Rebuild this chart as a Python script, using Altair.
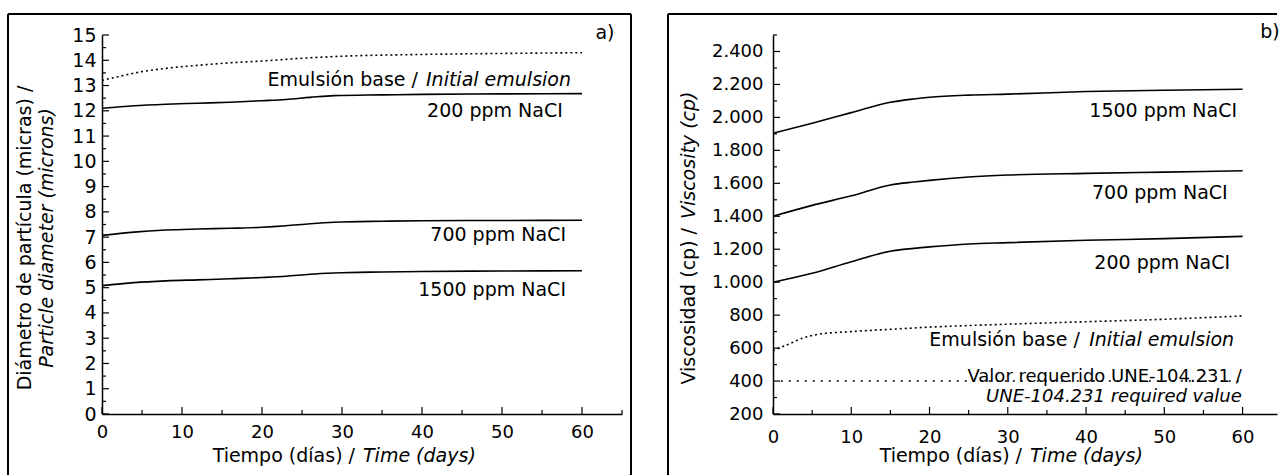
import altair as alt
import pandas as pd

FONT = "DejaVu Sans"

# ---------------- panel a) particle diameter (microns) ----------------
a_days = [0, 4, 8, 12, 16, 20, 23, 26, 29, 35, 40, 50, 60]
a_200 = [12.1, 12.2, 12.26, 12.3, 12.34, 12.4, 12.45, 12.53, 12.6, 12.63, 12.65, 12.67, 12.68]
a_700 = [7.07, 7.2, 7.28, 7.32, 7.35, 7.39, 7.45, 7.53, 7.59, 7.63, 7.65, 7.66, 7.67]
a_1500 = [5.08, 5.2, 5.27, 5.31, 5.35, 5.4, 5.45, 5.53, 5.58, 5.62, 5.64, 5.66, 5.67]
a_base_days = [0, 2, 5, 8, 12, 16, 20, 25, 30, 40, 50, 60]
a_base = [13.2, 13.35, 13.55, 13.68, 13.8, 13.9, 13.97, 14.08, 14.16, 14.23, 14.27, 14.3]

a_y_major = list(range(0, 16))
a_y_minor = [i + 0.5 for i in range(15)]
x_major = [0, 10, 20, 30, 40, 50, 60]
a_x_minor = [5, 15, 25, 35, 45, 55, 65]
b_x_minor = [5, 15, 25, 35, 45, 55]

a_lab_text = ["200 ppm NaCI", "700 ppm NaCI", "1500 ppm NaCI"]
a_lab_x = [57.6, 58.0, 58.0]
a_lab_y = [12.0, 7.08, 4.9]
a_emul_x = [39.5, 40.5]
a_emul_y = 13.22

# ---------------- panel b) viscosity (cp) ----------------
b_days = [0, 5, 10, 15, 18, 20, 25, 30, 40, 50, 60]
b_1500 = [1904, 1965, 2029, 2092, 2112, 2122, 2135, 2141, 2157, 2165, 2171]
b_700 = [1400, 1466, 1524, 1590, 1608, 1618, 1638, 1650, 1660, 1668, 1676]
b_200 = [1000, 1054, 1124, 1188, 1205, 1214, 1232, 1240, 1254, 1264, 1278]
b_base_days = [0, 2, 4, 6, 10, 15, 20, 30, 40, 50, 60]
b_base = [584, 624, 664, 685, 700, 714, 727, 745, 760, 775, 795]
b_req_days = [1, 60]
b_req = [400, 400]

b_y_major = list(range(200, 2401, 200))
b_y_minor = list(range(300, 2501, 200))

b_lab_text = ["1500 ppm NaCI", "700 ppm NaCI", "200 ppm NaCI"]
b_lab_x = [59.3, 58.1, 58.4]
b_lab_y = [2040, 1540, 1116]
b_emul_x = [39.2, 40.4]
b_emul_y = 649
b_req_lab_x = 59.9
b_req_lab_y = [425, 303]

# ---------------- geometry ----------------
H = 379
WA, WB = 520, 504
A_XDOM = [0, 65]
B_XDOM = [0, 64.4]
A_YDOM = [0, 15]
B_YDOM = [200, 2500]


def long_df(days, series):
    rows = []
    for name, vals in series.items():
        for d, v in zip(days, vals):
            rows.append({"day": d, "val": v, "s": name})
    return pd.DataFrame(rows)


def const_text(txt, x, y, size=19, italic=False, align="center", angle=0):
    kw = dict(text=txt, font=FONT, fontSize=size, color="black", align=align, baseline="middle")
    if italic:
        kw["fontStyle"] = "italic"
    if angle:
        kw["angle"] = angle
    return alt.Chart(pd.DataFrame({"k": [0]})).mark_text(**kw).encode(
        x=alt.value(x), y=alt.value(y))


def rule(x, x2, y, y2):
    return alt.Chart(pd.DataFrame({"k": [0]})).mark_rule(color="black", strokeWidth=2).encode(
        x=alt.value(x), x2=alt.value(x2), y=alt.value(y), y2=alt.value(y2))


def build_panel(xdom, ydom, W, xpad, xsize, ypad, ysize, ylabel_expr, x_minor, y_major, y_minor,
                lines_solid, line_base, line_req):
    xaxis = alt.Axis(values=x_major, title=None, ticks=False, labelPadding=xpad, labelFontSize=xsize,
                     labelFont=FONT, labelColor="black", domainColor="black", domainWidth=1.5,
                     grid=False, labelFlush=False)
    yaxis_kw = dict(values=y_major, title=None, ticks=False, labelPadding=ypad, labelFontSize=ysize,
                    labelFont=FONT, labelColor="black", domainColor="black", domainWidth=1.5,
                    grid=False, labelFlush=False)
    if ylabel_expr:
        yaxis_kw["labelExpr"] = ylabel_expr
    yaxis = alt.Axis(**yaxis_kw)

    def X(f):
        return alt.X(f"{f}:Q", scale=alt.Scale(domain=xdom, nice=False, zero=False), axis=xaxis)

    def Y(f):
        return alt.Y(f"{f}:Q", scale=alt.Scale(domain=ydom, nice=False, zero=False), axis=yaxis)

    layers = []
    layers.append(alt.Chart(lines_solid).mark_line(color="black", strokeWidth=1.6, interpolate="monotone")
                  .encode(x=X("day"), y=Y("val"), detail="s:N"))
    layers.append(alt.Chart(line_base).mark_line(color="black", strokeWidth=1.6, strokeDash=[2, 3],
                                                 interpolate="monotone")
                  .encode(x=X("day"), y=Y("val")))
    if line_req is not None:
        layers.append(alt.Chart(line_req).mark_line(color="black", strokeWidth=1.6, strokeDash=[2, 6])
                      .encode(x=X("day"), y=Y("val")))
    # inward ticks
    layers.append(alt.Chart(pd.DataFrame({"v": y_major})).mark_rule(color="black", strokeWidth=1.2)
                  .encode(y=Y("v"), x=alt.value(0), x2=alt.value(7)))
    layers.append(alt.Chart(pd.DataFrame({"v": y_minor})).mark_rule(color="black", strokeWidth=1.2)
                  .encode(y=Y("v"), x=alt.value(0), x2=alt.value(4)))
    layers.append(alt.Chart(pd.DataFrame({"v": x_major})).mark_rule(color="black", strokeWidth=1.2)
                  .encode(x=X("v"), y=alt.value(H), y2=alt.value(H - 7)))
    layers.append(alt.Chart(pd.DataFrame({"v": x_minor})).mark_rule(color="black", strokeWidth=1.2)
                  .encode(x=X("v"), y=alt.value(H), y2=alt.value(H - 4)))
    return layers, X, Y


# ---------------- panel a ----------------
a_solid = long_df(a_days, {"200": a_200, "700": a_700, "1500": a_1500})
a_base_df = long_df(a_base_days, {"base": a_base})
layers_a, XA, YA = build_panel(A_XDOM, A_YDOM, WA, 9, 18, 6, 19, None, a_x_minor, a_y_major, a_y_minor,
                               a_solid, a_base_df, None)

a_labels = pd.DataFrame({"day": a_lab_x, "val": a_lab_y, "t": a_lab_text})
layers_a.append(alt.Chart(a_labels).mark_text(font=FONT, fontSize=19, color="black", align="right",
                                              baseline="middle")
                .encode(x=XA("day"), y=YA("val"), text="t:N"))
a_emul = pd.DataFrame({"day": a_emul_x, "val": [a_emul_y, a_emul_y], "t": ["Emulsión base /", "Initial emulsion"]})
layers_a.append(alt.Chart(a_emul.iloc[[0]]).mark_text(font=FONT, fontSize=19, color="black", align="right",
                                                      baseline="middle")
                .encode(x=XA("day"), y=YA("val"), text="t:N"))
layers_a.append(alt.Chart(a_emul.iloc[[1]]).mark_text(font=FONT, fontSize=19, color="black", align="left",
                                                      baseline="middle", fontStyle="italic")
                .encode(x=XA("day"), y=YA("val"), text="t:N"))
# titles and frame
layers_a += [
    const_text("Diámetro de partícula (micras) /", -77, 203, angle=270),
    const_text("Particle diameter (microns)", -55, 203, italic=True, angle=270),
    const_text("Tiempo (días) /", 253, 421, align="right"),
    const_text("Time (days)", 261, 421, italic=True, align="left"),
    const_text("a)", 503, -2),
    rule(-94, 529, -21, -21),
    rule(-94, -94, -21, 440),
    rule(529, 529, -21, 440),
]
panel_a = alt.layer(*layers_a).properties(width=WA, height=H)

# ---------------- panel b ----------------
b_solid = long_df(b_days, {"1500": b_1500, "700": b_700, "200": b_200})
b_base_df = long_df(b_base_days, {"base": b_base})
b_req_df = long_df(b_req_days, {"req": b_req})
layers_b, XB, YB = build_panel(B_XDOM, B_YDOM, WB, 14, 18, 10, 18,
                               "replace(format(datum.value, ','), ',', '.')",
                               b_x_minor, b_y_major, b_y_minor, b_solid, b_base_df, b_req_df)

b_labels = pd.DataFrame({"day": b_lab_x, "val": b_lab_y, "t": b_lab_text})
layers_b.append(alt.Chart(b_labels).mark_text(font=FONT, fontSize=19, color="black", align="right",
                                              baseline="middle")
                .encode(x=XB("day"), y=YB("val"), text="t:N"))
b_emul = pd.DataFrame({"day": b_emul_x, "val": [b_emul_y, b_emul_y], "t": ["Emulsión base /", "Initial emulsion"]})
layers_b.append(alt.Chart(b_emul.iloc[[0]]).mark_text(font=FONT, fontSize=19, color="black", align="right",
                                                      baseline="middle")
                .encode(x=XB("day"), y=YB("val"), text="t:N"))
layers_b.append(alt.Chart(b_emul.iloc[[1]]).mark_text(font=FONT, fontSize=19, color="black", align="left",
                                                      baseline="middle", fontStyle="italic")
                .encode(x=XB("day"), y=YB("val"), text="t:N"))
b_req_lab = pd.DataFrame({"day": [b_req_lab_x, b_req_lab_x], "val": b_req_lab_y,
                          "t": ["Valor requerido UNE-104.231 /", "UNE-104.231 required value"]})
layers_b.append(alt.Chart(b_req_lab.iloc[[0]]).mark_text(font=FONT, fontSize=18, color="black", align="right",
                                                         baseline="middle")
                .encode(x=XB("day"), y=YB("val"), text="t:N"))
layers_b.append(alt.Chart(b_req_lab.iloc[[1]]).mark_text(font=FONT, fontSize=18, color="black", align="right",
                                                         baseline="middle", fontStyle="italic")
                .encode(x=XB("day"), y=YB("val"), text="t:N"))
layers_b += [
    const_text("Viscosidad (cp) /", -84, 193, align="right", angle=270),
    const_text("Viscosity (cp)", -84, 184, italic=True, align="left", angle=270),
    const_text("Tiempo (días) /", 249, 421, align="right"),
    const_text("Time (days)", 257, 421, italic=True, align="left"),
    const_text("b)", 497, -3),
    rule(-105, WB, -21, -21),
    rule(-105, -105, -21, 440),
]
panel_b = alt.layer(*layers_b).properties(width=WB, height=H)

chart = alt.hconcat(panel_a, panel_b, spacing=35).properties(
    padding={"left": 7, "top": 13, "right": 0, "bottom": 0},
    background="white",
).configure_view(stroke=None)

chart.save("out.html", embed_options={"renderer": "svg", "actions": False})
